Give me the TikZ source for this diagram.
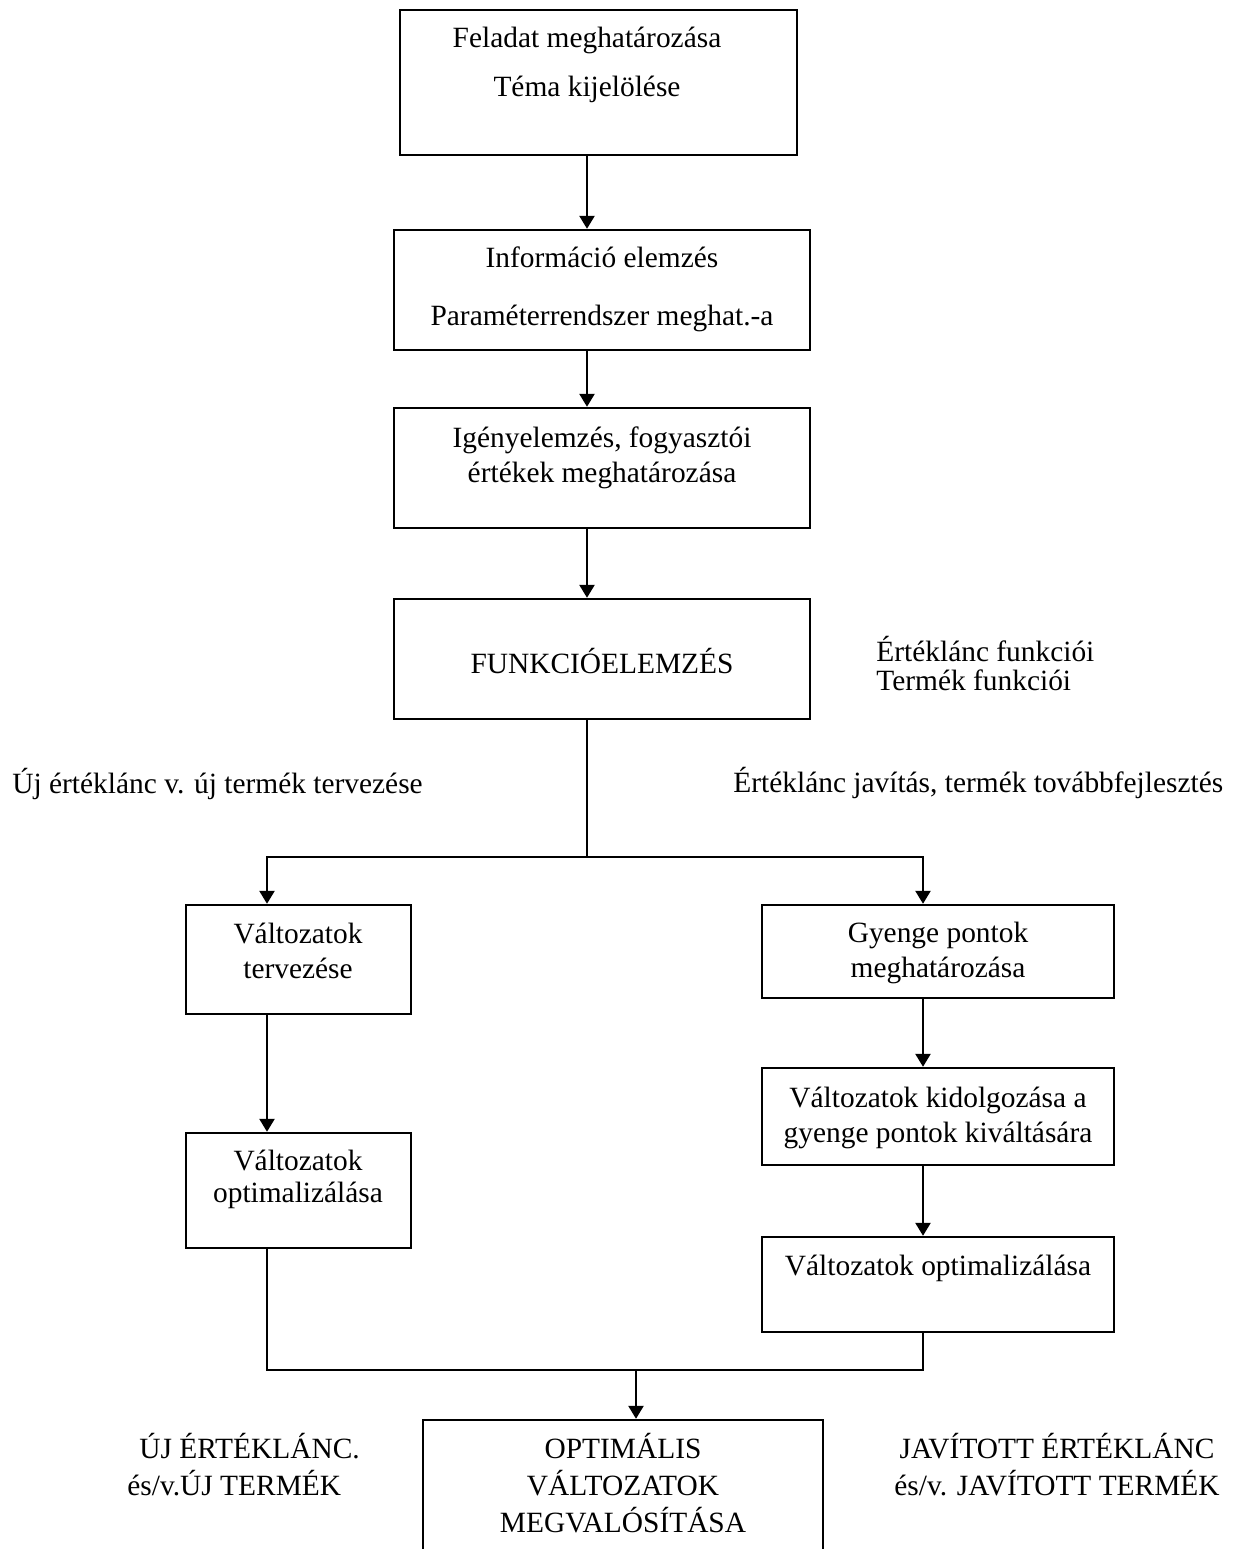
\documentclass[tikz,border=0pt]{standalone}
\usepackage{fontspec}
\setmainfont{Liberation Serif}
\usetikzlibrary{arrows.meta,fit}

\begin{document}
\begin{tikzpicture}[x=0.5pt,y=-0.5pt,
  box/.style={draw, line width=1.2pt, inner sep=0pt, fit={#1}},
  lbl/.style={anchor=base, inner sep=0pt, font=\fontsize{14.7}{18}\selectfont},
  lbll/.style={lbl, anchor=base west},
  conn/.style={line width=1.2pt},
  arr/.style={conn, -{Triangle[width=7.5pt,length=6.5pt]}}]

\useasboundingbox (0,0) rectangle (1234,1549);
\clip (0,0) rectangle (1234,1549);

% vertical guide lines for the connectors
\coordinate (spine) at (587,0);
\coordinate (lx) at (267,0);
\coordinate (rx) at (923,0);

% main column
\node[box={(400,10) (797,155)}] (task) {};
\node[lbl] (task1) at (587,47) {Feladat meghatározása};
\node[lbl] (task2) at (587,96) {Téma kijelölése};

\node[box={(394,230) (810,350)}] (info) {};
\node[lbl] (info1) at (602,267) {Információ elemzés};
\node[lbl] (info2) at (602,325) {Paraméterrendszer meghat.-a};

\node[box={(394,408) (810,528)}] (need) {};
\node[lbl] (need1) at (602,447) {Igényelemzés, fogyasztói};
\node[lbl] (need2) at (602,482) {értékek meghatározása};

\node[box={(394,599) (810,719)}] (func) {};
\node[lbl] (func1) at (602,673) {FUNKCIÓELEMZÉS};

\node[lbll] (side1) at (876,661) {Értéklánc funkciói};
\node[lbll] (side2) at (876,690) {Termék funkciói};

\draw[arr] (task.south -| spine) -- (info.north -| spine);
\draw[arr] (info.south -| spine) -- (need.north -| spine);
\draw[arr] (need.south -| spine) -- (func.north -| spine);

% branch labels
\node[lbll] (newlbl) at (12,793) {Új értéklánc v. új termék tervezése};
\node[lbll] (implbl) at (733,792) {Értéklánc javítás, termék továbbfejlesztés};

% left branch
\node[box={(186,905) (411,1014)}] (newd) {};
\node[lbl] (newd1) at (298,943) {Változatok};
\node[lbl] (newd2) at (298,978) {tervezése};

\node[box={(186,1133) (411,1248)}] (newopt) {};
\node[lbl] (newopt1) at (298,1170) {Változatok};
\node[lbl] (newopt2) at (298,1202) {optimalizálása};

% right branch
\node[box={(762,905) (1114,998)}] (weak) {};
\node[lbl] (weak1) at (938,942) {Gyenge pontok};
\node[lbl] (weak2) at (938,977) {meghatározása};

\node[box={(762,1068) (1114,1165)}] (alt) {};
\node[lbl] (alt1) at (938,1107) {Változatok kidolgozása a};
\node[lbl] (alt2) at (938,1142) {gyenge pontok kiváltására};

\node[box={(762,1237) (1114,1332)}] (ropt) {};
\node[lbl] (ropt1) at (938,1275) {Változatok optimalizálása};

% split below the function analysis
\coordinate (split) at (587,857);
\draw[conn] (func.south -| spine) -- (split);
\draw[arr] (split) -| (lx |- newd.north);
\draw[arr] (split) -| (rx |- weak.north);

\draw[arr] (lx |- newd.south) -- (lx |- newopt.north);
\draw[arr] (rx |- weak.south) -- (rx |- alt.north);
\draw[arr] (rx |- alt.south) -- (rx |- ropt.north);

% final result
\node[box={(423,1420) (823,1620)}] (final) {};
\node[lbl] (final1) at (623,1458) {OPTIMÁLIS};
\node[lbl] (final2) at (623,1495) {VÁLTOZATOK};
\node[lbl] (final3) at (623,1532) {MEGVALÓSÍTÁSA};

\coordinate (join) at (636,1370);
\draw[conn] (lx |- newopt.south) |- (join) -| (rx |- ropt.south);
\draw[arr] (join) -- (join |- final.north);

\node[lbll] (res1) at (139,1458) {ÚJ ÉRTÉKLÁNC.};
\node[lbll] (res2) at (127,1495) {és/v.ÚJ TERMÉK};
\node[lbl] (res3) at (1057,1458) {JAVÍTOTT ÉRTÉKLÁNC};
\node[lbl] (res4) at (1057,1495) {és/v. JAVÍTOTT TERMÉK};

\end{tikzpicture}
\end{document}
